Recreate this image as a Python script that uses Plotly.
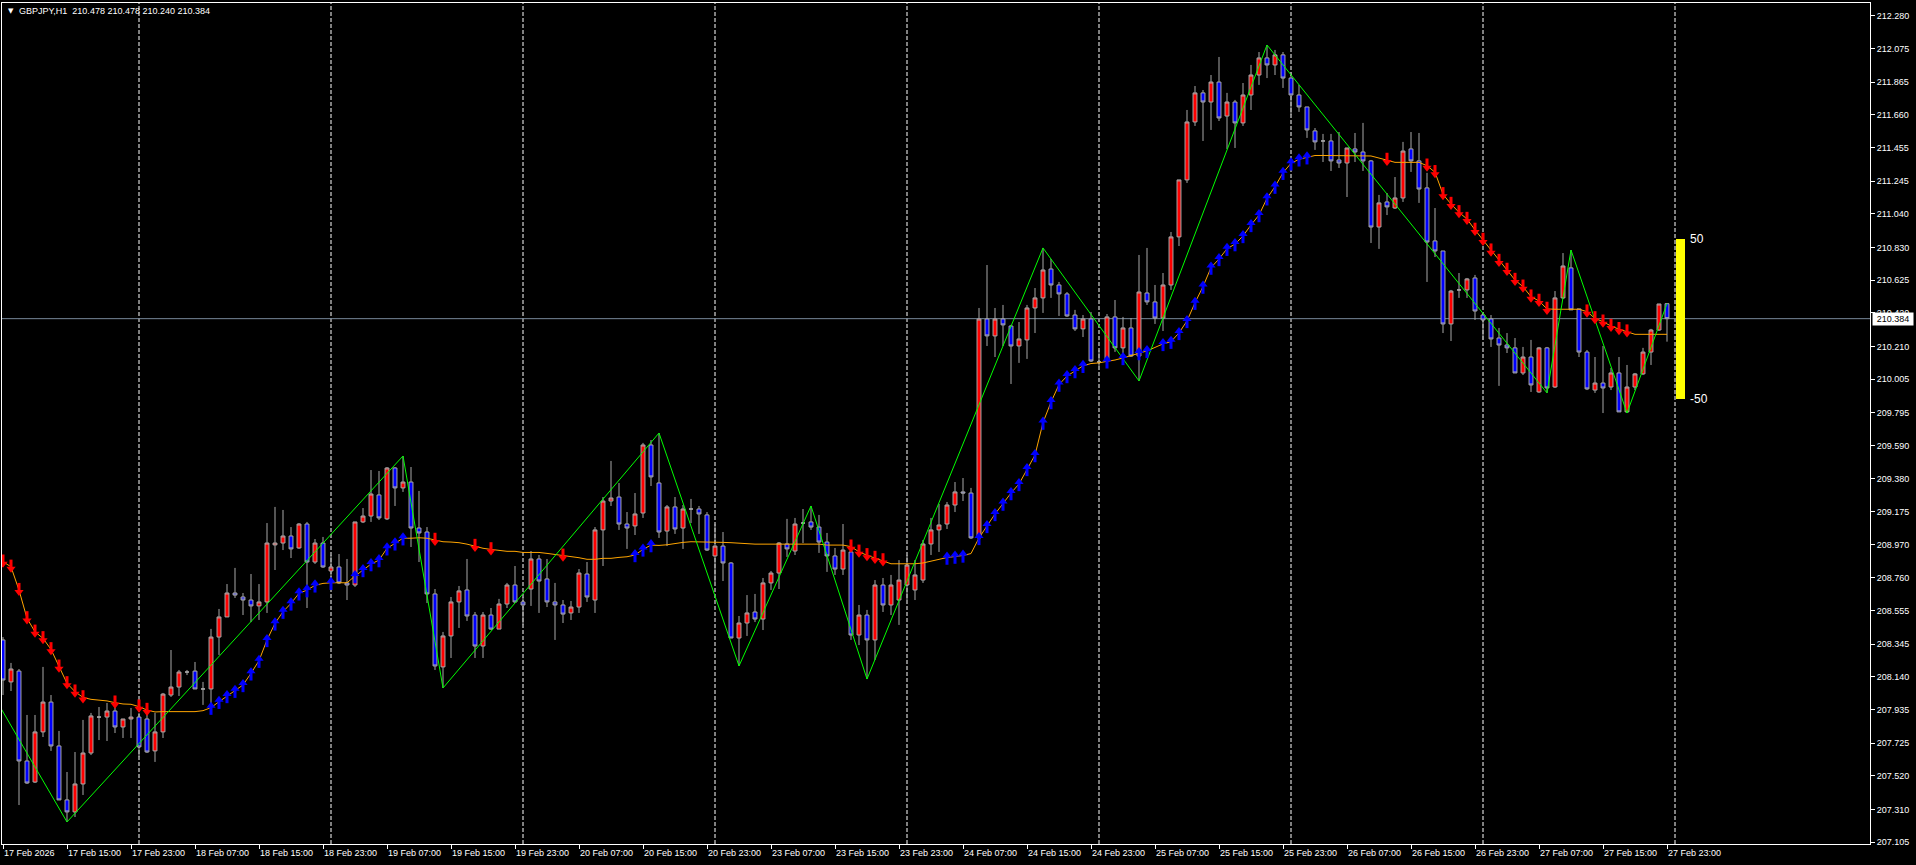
import plotly.graph_objects as go

# ---------------- data ----------------
symbol_text = "GBPJPY,H1"
year = "2026"
days = ["17 Feb", "18 Feb", "19 Feb", "20 Feb", "23 Feb", "24 Feb", "25 Feb", "26 Feb", "27 Feb"]
first_bar_hour = 7
label_step = 8

opens = [
    208.372, 208.109, 208.177, 207.614, 207.482, 207.796, 207.983, 207.708, 207.370, 207.295,
    207.470, 207.664, 207.889, 207.889, 207.927, 207.827, 207.877, 207.889, 207.877, 207.677,
    207.796, 208.027, 208.077, 208.171, 208.177, 208.065, 208.065, 208.390, 208.516, 208.666,
    208.641, 208.622, 208.585, 208.610, 208.967, 208.979, 209.023, 208.948, 209.098, 208.860,
    208.979, 208.804, 208.829, 208.729, 208.716, 209.111, 209.148, 209.280, 209.130, 209.449,
    209.324, 209.361, 209.073, 209.048, 208.660, 208.203, 208.397, 208.610, 208.685, 208.528,
    208.334, 208.528, 208.440, 208.597, 208.716, 208.610, 208.691, 208.879, 208.754, 208.610,
    208.591, 208.541, 208.578, 208.785, 208.622, 209.061, 209.242, 209.267, 209.098, 209.086,
    209.167, 209.593, 209.355, 209.054, 209.205, 209.073, 209.192, 209.192, 209.155, 208.898,
    208.960, 208.854, 208.384, 208.478, 208.547, 208.503, 208.729, 208.791, 208.973, 208.929,
    209.104, 209.111, 209.079, 208.985, 208.898, 208.816, 208.923, 208.403, 208.528, 208.372,
    208.716, 208.591, 208.622, 208.716, 208.685, 208.747, 208.973, 209.061, 209.098, 209.217,
    209.299, 209.292, 209.011, 210.382, 210.276, 210.382, 210.338, 210.213, 210.251, 210.451,
    210.514, 210.695, 210.595, 210.539, 210.407, 210.320, 210.382, 210.113, 210.132, 210.395,
    210.201, 210.326, 210.150, 210.545, 210.489, 210.388, 210.595, 210.896, 211.253, 211.616,
    211.798, 211.741, 211.866, 211.653, 211.741, 211.610, 211.785, 211.910, 212.017, 211.973,
    212.036, 211.891, 211.785, 211.710, 211.560, 211.497, 211.497, 211.378, 211.359, 211.447,
    211.428, 211.372, 210.958, 211.115, 211.077, 211.140, 211.447, 211.372, 211.203, 210.871,
    210.808, 210.351, 210.564, 210.564, 210.639, 210.407, 210.382, 210.263, 210.219, 210.201,
    210.044, 210.144, 209.925, 210.201, 209.956, 210.514, 210.702, 210.445, 210.175, 209.937,
    209.981, 209.956, 210.044, 209.800, 209.956, 210.038, 210.175, 210.313, 210.478,
]
highs = [
    208.390, 208.228, 208.190, 207.902, 207.902, 208.203, 208.027, 207.802, 207.545, 207.670,
    207.871, 207.915, 207.952, 207.977, 207.952, 207.877, 207.946, 207.915, 207.921, 207.915,
    208.040, 208.309, 208.184, 208.184, 208.234, 208.109, 208.441, 208.566, 208.722, 208.823,
    208.666, 208.785, 208.722, 209.104, 209.205, 209.186, 209.079, 209.104, 209.111, 209.004,
    209.017, 208.904, 208.910, 208.879, 209.111, 209.198, 209.436, 209.430, 209.455, 209.455,
    209.524, 209.455, 209.305, 209.079, 208.691, 208.422, 208.641, 208.710, 208.879, 208.547,
    208.547, 208.572, 208.629, 208.729, 208.835, 208.641, 208.929, 208.904, 208.879, 208.729,
    208.622, 208.616, 208.816, 208.860, 209.079, 209.267, 209.493, 209.355, 209.173, 209.292,
    209.606, 209.624, 209.668, 209.217, 209.267, 209.217, 209.255, 209.211, 209.173, 209.098,
    209.048, 208.860, 208.522, 208.653, 208.660, 208.760, 208.804, 208.985, 209.130, 209.136,
    209.192, 209.211, 209.155, 209.042, 208.948, 209.098, 208.954, 208.591, 208.560, 208.747,
    208.760, 208.779, 208.872, 208.904, 208.872, 208.998, 209.136, 209.224, 209.236, 209.361,
    209.386, 209.324, 210.451, 210.720, 210.451, 210.470, 210.345, 210.363, 210.470, 210.576,
    210.827, 210.758, 210.614, 210.551, 210.439, 210.407, 210.426, 210.188, 210.413, 210.501,
    210.395, 210.388, 210.783, 210.827, 210.595, 210.670, 210.927, 211.253, 211.691, 211.841,
    211.816, 211.910, 212.023, 211.798, 211.754, 211.860, 211.973, 212.054, 212.098, 212.067,
    212.054, 211.929, 211.848, 211.710, 211.578, 211.541, 211.541, 211.553, 211.453, 211.547,
    211.610, 211.378, 211.159, 211.171, 211.271, 211.491, 211.553, 211.547, 211.297, 211.077,
    210.808, 210.564, 210.670, 210.639, 210.658, 210.420, 210.407, 210.326, 210.294, 210.263,
    210.207, 210.251, 210.207, 210.207, 210.557, 210.795, 210.814, 210.445, 210.188, 210.144,
    210.213, 210.075, 210.144, 210.094, 210.044, 210.201, 210.320, 210.476, 210.478,
]
lows = [
    208.027, 208.052, 207.338, 207.470, 207.476, 207.764, 207.677, 207.370, 207.232, 207.263,
    207.401, 207.651, 207.745, 207.739, 207.789, 207.758, 207.758, 207.639, 207.664, 207.608,
    207.758, 208.015, 208.021, 208.152, 208.065, 207.965, 207.915, 208.278, 208.516, 208.635,
    208.528, 208.484, 208.497, 208.541, 208.810, 208.935, 208.885, 208.942, 208.572, 208.848,
    208.823, 208.766, 208.722, 208.622, 208.704, 209.104, 209.111, 209.123, 209.123, 209.211,
    209.299, 208.954, 208.860, 208.603, 208.184, 208.071, 208.259, 208.447, 208.491, 208.259,
    208.259, 208.434, 208.440, 208.572, 208.603, 208.466, 208.585, 208.541, 208.578, 208.372,
    208.478, 208.497, 208.541, 208.610, 208.541, 208.835, 209.211, 209.061, 208.942, 209.029,
    209.136, 209.336, 209.011, 208.960, 209.036, 208.942, 209.104, 209.036, 208.929, 208.735,
    208.741, 208.384, 208.209, 208.397, 208.484, 208.434, 208.685, 208.691, 208.892, 208.904,
    208.979, 209.061, 208.917, 208.798, 208.779, 208.779, 208.372, 208.340, 208.127, 208.247,
    208.547, 208.528, 208.466, 208.622, 208.622, 208.729, 208.904, 208.923, 209.067, 209.173,
    209.242, 209.004, 208.979, 210.213, 210.144, 210.213, 209.975, 210.107, 210.132, 210.294,
    210.420, 210.514, 210.401, 210.395, 210.307, 210.269, 210.113, 210.088, 210.119, 210.176,
    210.113, 210.144, 209.994, 210.470, 210.351, 210.307, 210.564, 210.839, 211.234, 211.591,
    211.497, 211.566, 211.622, 211.447, 211.453, 211.591, 211.691, 211.848, 211.891, 211.910,
    211.829, 211.660, 211.679, 211.516, 211.441, 211.365, 211.309, 211.328, 211.146, 211.365,
    211.309, 210.858, 210.821, 211.033, 211.071, 211.115, 211.303, 211.109, 210.614, 210.770,
    210.294, 210.244, 210.514, 210.514, 210.376, 210.251, 210.207, 209.963, 210.169, 210.044,
    210.031, 209.925, 209.919, 209.919, 209.950, 210.507, 210.439, 210.144, 209.937, 209.919,
    209.793, 209.937, 209.800, 209.793, 209.937, 210.031, 210.094, 210.307, 210.240,
]
closes = [
    208.121, 208.190, 207.614, 207.476, 207.796, 207.983, 207.708, 207.370, 207.295, 207.470,
    207.664, 207.896, 207.889, 207.927, 207.827, 207.877, 207.889, 207.702, 207.670, 207.796,
    208.033, 208.077, 208.171, 208.171, 208.065, 208.065, 208.390, 208.516, 208.666, 208.653,
    208.622, 208.585, 208.610, 208.979, 208.979, 209.023, 208.942, 209.098, 208.860, 208.979,
    208.829, 208.829, 208.729, 208.716, 209.111, 209.148, 209.286, 209.136, 209.449, 209.324,
    209.361, 209.073, 209.042, 208.660, 208.209, 208.397, 208.610, 208.679, 208.522, 208.334,
    208.528, 208.440, 208.597, 208.716, 208.610, 208.591, 208.879, 208.741, 208.610, 208.591,
    208.534, 208.578, 208.791, 208.641, 209.061, 209.242, 209.261, 209.098, 209.073, 209.161,
    209.593, 209.393, 209.048, 209.205, 209.067, 209.192, 209.192, 209.161, 208.935, 208.960,
    208.854, 208.384, 208.478, 208.541, 208.503, 208.729, 208.791, 208.979, 208.942, 209.098,
    209.104, 209.079, 208.985, 208.898, 208.816, 208.935, 208.403, 208.528, 208.372, 208.716,
    208.591, 208.716, 208.747, 208.841, 208.779, 208.973, 209.061, 209.092, 209.217, 209.299,
    209.292, 209.011, 210.382, 210.276, 210.382, 210.345, 210.213, 210.257, 210.451, 210.514,
    210.689, 210.595, 210.539, 210.401, 210.320, 210.382, 210.119, 210.113, 210.395, 210.201,
    210.326, 210.150, 210.551, 210.489, 210.388, 210.595, 210.896, 211.253, 211.616, 211.798,
    211.741, 211.866, 211.641, 211.741, 211.610, 211.785, 211.910, 212.017, 211.973, 212.036,
    211.891, 211.785, 211.710, 211.566, 211.491, 211.497, 211.372, 211.359, 211.453, 211.428,
    211.372, 210.958, 211.109, 211.084, 211.140, 211.434, 211.372, 211.196, 210.864, 210.808,
    210.351, 210.557, 210.564, 210.633, 210.432, 210.376, 210.257, 210.219, 210.201, 210.044,
    210.144, 209.969, 210.201, 209.950, 210.514, 210.714, 210.439, 210.175, 209.944, 209.981,
    209.950, 210.044, 209.800, 209.956, 210.038, 210.175, 210.313, 210.476, 210.384,
]

# orange trend line (indicator buffer)
trend_line = [
    208.862, 208.830, 208.684, 208.507, 208.423, 208.382, 208.313, 208.204, 208.100, 208.048,
    208.012, 208.000, 207.996, 207.990, 207.979, 207.971, 207.969, 207.954, 207.933, 207.921,
    207.923, 207.923, 207.923, 207.923, 207.923, 207.929, 207.948, 207.985, 208.021, 208.054,
    208.090, 208.163, 208.242, 208.372, 208.476, 208.549, 208.601, 208.664, 208.684, 208.714,
    208.726, 208.730, 208.730, 208.730, 208.772, 208.810, 208.847, 208.872, 208.946, 208.977,
    209.009, 209.009, 209.012, 209.009, 208.998, 208.987, 208.985, 208.981, 208.972, 208.960,
    208.946, 208.939, 208.933, 208.927, 208.927, 208.920, 208.920, 208.920, 208.914, 208.908,
    208.899, 208.893, 208.887, 208.877, 208.877, 208.883, 208.883, 208.889, 208.893, 208.904,
    208.939, 208.966, 208.964, 208.968, 208.977, 208.983, 208.987, 208.987, 208.987, 208.987,
    208.983, 208.981, 208.977, 208.977, 208.972, 208.972, 208.972, 208.972, 208.972, 208.972,
    208.972, 208.972, 208.972, 208.966, 208.964, 208.966, 208.956, 208.924, 208.902, 208.885,
    208.870, 208.849, 208.849, 208.849, 208.849, 208.854, 208.866, 208.879, 208.888, 208.894,
    208.901, 208.913, 209.011, 209.086, 209.161, 209.226, 209.292, 209.349, 209.443, 209.530,
    209.733, 209.862, 209.971, 210.025, 210.056, 210.089, 210.103, 210.107, 210.117, 210.125,
    210.138, 210.154, 210.169, 210.182, 210.204, 210.226, 210.240, 210.295, 210.370, 210.484,
    210.585, 210.704, 210.758, 210.822, 210.851, 210.902, 210.971, 211.033, 211.138, 211.211,
    211.298, 211.357, 211.382, 211.395, 211.406, 211.406, 211.406, 211.406, 211.406, 211.406,
    211.406, 211.403, 211.390, 211.378, 211.363, 211.363, 211.363, 211.363, 211.342, 211.301,
    211.163, 211.102, 211.050, 211.008, 210.940, 210.877, 210.810, 210.745, 210.689, 210.626,
    210.584, 210.522, 210.495, 210.445, 210.443, 210.443, 210.443, 210.443, 210.428, 210.386,
    210.365, 210.338, 210.318, 210.303, 210.286, 210.286, 210.286, 210.286, 210.286,
]

# bars where the indicator prints arrows
down_arrow_bars = (list(range(0, 11)) + [14, 17, 18, 54, 59, 61, 70] + list(range(106, 111))
                   + [173] + list(range(178, 194)) + list(range(198, 204)))
up_arrow_bars = (list(range(26, 40)) + [41] + list(range(44, 51)) + [79, 80, 81]
                 + [118, 119, 120] + list(range(122, 136)) + [138, 140, 142, 143]
                 + list(range(145, 164)))

# zigzag pivots (bar index, 'H' high / 'L' low); first pivot lies before the visible window
zz_lead_in = (-3, 208.18)
zz_pivot_bars = [8, 50, 55, 82, 92, 101, 108, 130, 142, 158, 193, 196, 203, 208]
zz_pivot_kind = ['L', 'H', 'L', 'H', 'L', 'H', 'L', 'H', 'L', 'H', 'L', 'H', 'L', 'H']

# price axis labels (as printed by the terminal)
price_labels = ['207.105', '207.310', '207.520', '207.725', '207.935', '208.140', '208.345',
                '208.555', '208.760', '208.970', '209.175', '209.380', '209.590', '209.795',
                '210.005', '210.210', '210.420', '210.625', '210.830', '211.040', '211.245',
                '211.455', '211.660', '211.865', '212.075', '212.280']

# +/- 50 pip band drawn at the right of the last bar
band_top_pips = 50
band_bottom_pips = -50
pip_size = 0.01

# ---------------- derived structures ----------------
bar_day, bar_hour = [], []
for k, d in enumerate(days):
    for h in range(first_bar_hour if k == 0 else 0, 24):
        bar_day.append(d)
        bar_hour.append(h)
n_bars = len(bar_day)
idx = list(range(n_bars))

tick_vals, tick_text = [], []
for i in range(0, n_bars, label_step):
    tick_vals.append(i)
    tick_text.append(f"{bar_day[i]} {year}" if i == 0 else f"{bar_day[i]} {bar_hour[i]:02d}:00")

separators = [i for i in idx if bar_hour[i] == 0] + [n_bars]

zz_x = [zz_lead_in[0]] + zz_pivot_bars
zz_y = [zz_lead_in[1]] + [highs[b] if k == 'H' else lows[b] for b, k in zip(zz_pivot_bars, zz_pivot_kind)]

last_close = closes[-1]
ohlc_title = f"{opens[-1]:.3f} {highs[-1]:.3f} {lows[-1]:.3f} {closes[-1]:.3f}"

# ---------------- style ----------------
FONT = "Liberation Sans, Arial, sans-serif"
WICK = "#A8A8A8"
BULL = "#FF0000"
BEAR = "#0000FF"
W, H = 1916, 865
M = dict(l=2, r=46, t=3, b=21, pad=0)
x_range = [-0.125, 233.375]
y_range = [207.094, 212.361]
price_per_px = (y_range[1] - y_range[0]) / (H - M["t"] - M["b"])

fig = go.Figure()

fig.add_trace(go.Candlestick(
    x=idx, open=opens, high=highs, low=lows, close=closes,
    increasing=dict(fillcolor=BULL, line=dict(color=WICK, width=1)),
    decreasing=dict(fillcolor=BEAR, line=dict(color=WICK, width=1)),
    whiskerwidth=0, hoverinfo="skip", showlegend=False,
))

fig.add_trace(go.Scatter(x=idx, y=trend_line, mode="lines",
                         line=dict(color="#FFA500", width=1), hoverinfo="skip", showlegend=False))

fig.add_trace(go.Scatter(x=zz_x, y=zz_y, mode="lines",
                         line=dict(color="#00FF00", width=1), hoverinfo="skip", showlegend=False))


# arrows = stem (behind) + head, head towards the arrow direction
def add_arrows(bars, color, direction):
    ys = [trend_line[b] for b in bars]
    sgn = -1 if direction == "down" else 1   # +1 -> up
    stem_y = [v - sgn * 3.0 * price_per_px for v in ys]
    head_y = [v + sgn * 2.0 * price_per_px for v in ys]
    fig.add_trace(go.Scatter(x=bars, y=stem_y, mode="markers", hoverinfo="skip", showlegend=False,
                             marker=dict(symbol="line-ns", size=6, color=color,
                                         line=dict(color=color, width=3))))
    fig.add_trace(go.Scatter(x=bars, y=head_y, mode="markers", hoverinfo="skip", showlegend=False,
                             marker=dict(symbol="triangle-" + direction, size=8, color=color,
                                         line=dict(width=0))))


add_arrows(down_arrow_bars, "#FF0000", "down")
add_arrows(up_arrow_bars, "#0000FF", "up")

# pip band
band_x = n_bars - 1 + 1.7
band_w = 1.1
band_lo = last_close + band_bottom_pips * pip_size
band_hi = last_close + band_top_pips * pip_size
fig.add_trace(go.Bar(x=[band_x], y=[band_hi - band_lo], base=[band_lo], width=[band_w],
                     marker=dict(color="#FFFF00", line=dict(width=0)),
                     hoverinfo="skip", showlegend=False))

shapes = []
for s in separators:
    shapes.append(dict(type="line", xref="x", yref="paper", x0=s, x1=s, y0=0, y1=1,
                       line=dict(color="white", width=1, dash="4px,2px"), layer="below"))
shapes.append(dict(type="line", xref="paper", yref="y", x0=0, x1=1, y0=last_close, y1=last_close,
                   line=dict(color="#778899", width=1), layer="below"))

annotations = [
    dict(text="▼", xref="paper", yref="paper", x=0, y=1, xanchor="left", yanchor="middle",
         xshift=4, yshift=-8, showarrow=False, font=dict(family="DejaVu Sans", size=7, color="white")),
    dict(text=f"{symbol_text}\u00a0\u00a0{ohlc_title}", xref="paper", yref="paper", x=0, y=1,
         xanchor="left", yanchor="middle", xshift=15, yshift=-8, showarrow=False,
         font=dict(family=FONT, size=9, color="white")),
    dict(text=f"{last_close:.3f}", xref="paper", yref="y", x=1, y=last_close, xanchor="left",
         yanchor="middle", xshift=2, showarrow=False, bgcolor="white", width=38, align="center",
         borderpad=1, font=dict(family=FONT, size=9, color="black")),
    dict(text=str(band_top_pips), xref="x", yref="y", x=band_x + band_w / 2, y=band_hi,
         xanchor="left", yanchor="middle", xshift=3, showarrow=False,
         font=dict(family=FONT, size=12, color="white")),
    dict(text=str(band_bottom_pips), xref="x", yref="y", x=band_x + band_w / 2, y=band_lo,
         xanchor="left", yanchor="middle", xshift=3, showarrow=False,
         font=dict(family=FONT, size=12, color="white")),
]

axis_common = dict(showgrid=False, zeroline=False, showline=True, linecolor="white", linewidth=1,
                   mirror=True, ticks="outside", ticklen=4, tickwidth=1, tickcolor="white",
                   tickfont=dict(family=FONT, size=9, color="white"), fixedrange=True)

fig.update_layout(
    width=W, height=H,
    margin=M,
    paper_bgcolor="black", plot_bgcolor="black",
    showlegend=False, bargap=0,
    xaxis=dict(range=x_range, tickvals=tick_vals, ticktext=tick_text,
               ticklabelposition="outside right", rangeslider=dict(visible=False), **axis_common),
    yaxis=dict(range=y_range, side="right", tickvals=[float(v) for v in price_labels],
               ticktext=price_labels, **axis_common),
    shapes=shapes, annotations=annotations,
)

fig.write_html("out.html", config={"displayModeBar": False},
               post_script="document.body.style.margin='0';document.body.style.background='black';")
